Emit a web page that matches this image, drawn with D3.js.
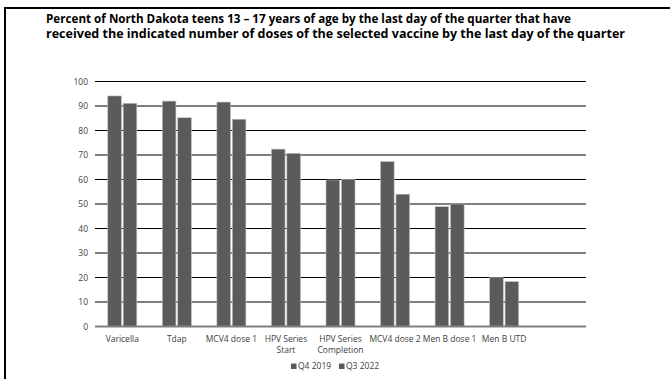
<!DOCTYPE html>
<html>
<head>
<meta charset="utf-8">
<script src="https://cdn.jsdelivr.net/npm/d3@7"></script>
<style>
  html, body { margin: 0; padding: 0; background: #fff; }
  svg { display: block; font-family: "Open Sans", "Noto Sans", sans-serif; }
</style>
</head>
<body>
<svg id="chart" width="670" height="379"></svg>
<script>
// Vaccine categories (second line of a label after "|")
const categories = ["Varicella", "Tdap", "MCV4 dose 1", "HPV Series|Start", "HPV Series|Completion", "MCV4 dose 2", "Men B dose 1", "Men B UTD"];
const seriesNames = ["Q4 2019", "Q3 2022"];
const q4_2019 = [94.1, 92.0, 91.6, 72.4, 59.8, 67.3, 48.9, 19.9];
const q3_2022 = [91.1, 85.2, 84.6, 70.7, 60.1, 54.0, 50.0, 18.3];
const yTicks = [0, 10, 20, 30, 40, 50, 60, 70, 80, 90, 100];
const titleLines = [
  "Percent of North Dakota teens 13 \u2013 17 years of age by the last day of the quarter that have",
  "received the indicated number of doses of the selected vaccine by the last day of the quarter"
];
const titleWidths = [525, 579];

const svg = d3.select("#chart");

// outer frame
svg.append("rect")
  .attr("x", 5).attr("y", 8).attr("width", 700).attr("height", 400)
  .attr("fill", "none").attr("stroke", "#000").attr("stroke-width", 2);

// title
svg.append("g").selectAll("text").data(titleLines).join("text")
  .attr("x", 46).attr("y", (d, i) => 23 + i * 14.5)
  .attr("font-size", 11.5).attr("font-weight", "bold").attr("fill", "#000")
  .attr("textLength", (d, i) => titleWidths[i]).attr("lengthAdjust", "spacingAndGlyphs")
  .text(d => d);

const plotL = 95, plotR = 586, plotT = 81.5, plotB = 326.5;

// one extra empty slot at the end of the category axis
const slots = categories.concat([""]);
const x0 = d3.scaleBand().domain(slots.map((d, i) => i)).range([plotL, plotR]).paddingInner(0).paddingOuter(0);
const x1 = d3.scaleBand().domain([0, 1]).range([0, 29]).paddingInner(0.12);
const y = d3.scaleLinear().domain([0, 100]).range([plotB, plotT]);

// gridlines
svg.append("g").selectAll("line").data(yTicks.filter(t => t > 0)).join("line")
  .attr("x1", plotL).attr("x2", plotR)
  .attr("y1", d => y(d)).attr("y2", d => y(d))
  .attr("stroke", "#000").attr("stroke-width", 1.2);

// y tick labels
const yAxis = d3.axisLeft(y).tickValues(yTicks).tickSize(0).tickPadding(7);
const yg = svg.append("g").attr("transform", `translate(${plotL},0)`).call(yAxis);
yg.select(".domain").remove();
yg.selectAll("text").attr("font-size", 8.5).attr("fill", "#404040")
  .attr("font-family", "\"Open Sans\", sans-serif");

// bars
const series = [q4_2019, q3_2022];
const groups = svg.append("g").selectAll("g").data(categories).join("g")
  .attr("transform", (d, i) => `translate(${x0(i) + x0.bandwidth() / 2 - 14.5},0)`);
groups.selectAll("rect").data((d, i) => series.map((s, k) => ({ k, v: s[i] }))).join("rect")
  .attr("x", d => x1(d.k))
  .attr("width", x1.bandwidth())
  .attr("y", d => y(d.v))
  .attr("height", d => y(0) - y(d.v))
  .attr("fill", "#5b5b5b")
  .attr("stroke", "#bdbdbd").attr("stroke-width", 0.6);

// baseline
svg.append("line").attr("x1", plotL).attr("x2", plotR)
  .attr("y1", y(0)).attr("y2", y(0))
  .attr("stroke", "#7f7f7f").attr("stroke-width", 2);

// category labels
const cat = svg.append("g").selectAll("text").data(categories).join("text")
  .attr("x", (d, i) => x0(i) + x0.bandwidth() / 2)
  .attr("y", 342)
  .attr("text-anchor", "middle").attr("font-size", 8.5).attr("fill", "#404040");
cat.each(function (d) {
  const parts = d.split("|");
  d3.select(this).selectAll("tspan").data(parts).join("tspan")
    .attr("x", d3.select(this).attr("x"))
    .attr("dy", (p, j) => j === 0 ? 0 : 10.7)
    .text(p => p);
});

// legend
const legend = svg.append("g").attr("transform", "translate(291,369)");
const lx = [0, 48];
seriesNames.forEach((name, k) => {
  const g = legend.append("g").attr("transform", `translate(${lx[k]},0)`);
  g.append("rect").attr("x", 0).attr("y", -5.5).attr("width", 5.5).attr("height", 5.5).attr("fill", "#5b5b5b");
  g.append("text").attr("x", 7).attr("y", 0).attr("font-size", 8.5).attr("fill", "#404040").text(name);
});
</script>
</body>
</html>
